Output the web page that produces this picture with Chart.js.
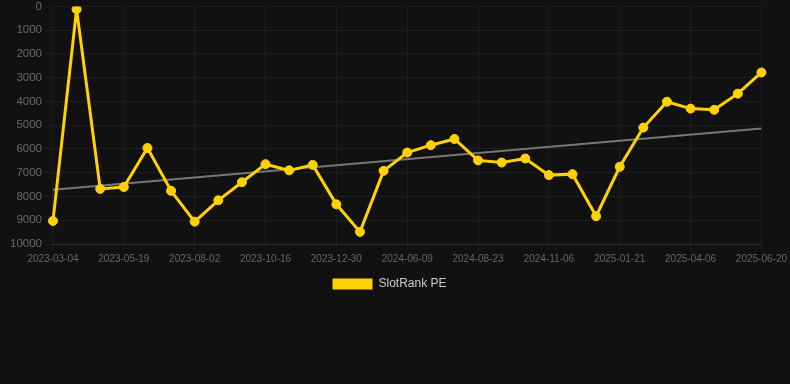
<!DOCTYPE html>
<html>
<head>
<meta charset="utf-8">
<script src="https://cdn.jsdelivr.net/npm/chart.js@4/dist/chart.umd.min.js"></script>
<style>
  html, body { margin: 0; padding: 0; background: #111111; }
  #wrap { width: 790px; height: 300px; position: relative; }
</style>
</head>
<body>
<div id="wrap"><canvas id="rankChart"></canvas></div>
<script>
// dates on the x axis (every third one is shown)
var dates = [
    '2023-03-04', '2023-03-29', '2023-04-23', '2023-05-19', '2023-06-13', '2023-07-08',
    '2023-08-02', '2023-08-27', '2023-09-21', '2023-10-16', '2023-11-10', '2023-12-05',
    '2023-12-30', '2024-01-24', '2024-05-15', '2024-06-09', '2024-07-04', '2024-07-29',
    '2024-08-23', '2024-09-17', '2024-10-12', '2024-11-06', '2024-12-01', '2024-12-26',
    '2025-01-21', '2025-02-15', '2025-03-12', '2025-04-06', '2025-05-01', '2025-05-26',
    '2025-06-20'
];

// rank values
var rankValues = [
    9030, 120, 7680, 7600, 5960, 7760,
    9060, 8160, 7400, 6640, 6900, 6670,
    8330, 9490, 6920, 6150, 5840, 5580,
    6480, 6570, 6400, 7100, 7060, 8830,
    6750, 5100, 4010, 4300, 4350, 3670,
    2780
];

// trend line: value at first and last date
var trendEnds = [7720, 5140];

var yTicks = { min: 0, max: 10000, step: 1000 };

// nudge the legend a little to the left, like the original
var legendShift = {
    id: 'legendShift',
    afterLayout: function(chart) {
        if (chart.legend) {
            chart.legend.left -= 7;
            chart.legend.right -= 7;
        }
    }
};

document.addEventListener("DOMContentLoaded", function() {
    var ctx = document.getElementById('rankChart').getContext('2d');

    var trendData = [
        { x: dates[0], y: trendEnds[0] },
        { x: dates[dates.length - 1], y: trendEnds[1] }
    ];

    new Chart(ctx, {
        type: 'line',
        data: {
            labels: dates,
            datasets: [
                {
                    label: 'SlotRank PE',
                    data: rankValues,
                    borderColor: '#ffd200',
                    backgroundColor: '#ffd200',
                    borderWidth: 3,
                    pointRadius: 4.5,
                    pointHoverRadius: 4.5,
                    pointBorderWidth: 1,
                    pointBackgroundColor: '#ffd200',
                    pointBorderColor: '#ffd200',
                    tension: 0,
                },
                {
                    label: 'trend',
                    data: trendData,
                    borderColor: '#777777',
                    borderWidth: 2,
                    pointRadius: 0,
                    fill: false,
                },
            ],
        },
        options: {
            responsive: true,
            maintainAspectRatio: false,
            animation: false,
            layout: { padding: { top: 0, right: 4, left: 7, bottom: 0 } },
            scales: {
                x: {
                    grid: { color: 'rgba(255,255,255,0.05)', drawTicks: true, tickLength: 6 },
                    border: { color: 'rgba(255,255,255,0.08)' },
                    ticks: {
                        color: '#666666',
                        font: { size: 10, family: 'Liberation Sans, Arial, sans-serif' },
                        maxRotation: 0,
                        autoSkip: true,
                        maxTicksLimit: 11,
                    },
                },
                y: {
                    reverse: true,
                    min: yTicks.min,
                    max: yTicks.max,
                    grid: { color: 'rgba(255,255,255,0.05)' },
                    border: { display: false },
                    ticks: {
                        stepSize: yTicks.step,
                        color: '#6a6a6a',
                        padding: 3,
                        font: { size: 11.5, lineHeight: 0.6, family: 'Liberation Sans, Arial, sans-serif' },
                        callback: function(v) { return String(v); },
                    },
                },
            },
            plugins: {
                legend: {
                    position: 'bottom',
                    labels: {
                        color: '#cccccc',
                        boxWidth: 40,
                        boxHeight: 11,
                        font: { size: 12, family: 'Liberation Sans, Arial, sans-serif' },
                        filter: function(item) { return item.text !== 'trend'; },
                        generateLabels: function(chart) {
                            var items = Chart.defaults.plugins.legend.labels.generateLabels(chart);
                            items.forEach(function(it) { it.lineWidth = 0; });
                            return items;
                        },
                    },
                },
                tooltip: { enabled: false },
            },
        },
        plugins: [legendShift],
    });
});
</script>
</body>
</html>
